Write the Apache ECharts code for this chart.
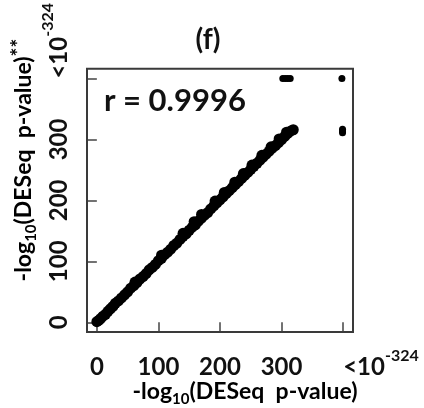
<!DOCTYPE html>
<html>
<head>
<meta charset="utf-8">
<script src="https://cdn.jsdelivr.net/npm/echarts@6/dist/echarts.min.js"></script>
<style>
html,body{margin:0;padding:0;background:#fff;}
#chart{width:424px;height:408px;}
</style>
</head>
<body>
<div id="chart"></div>
<script>
// Tick positions and labels (400 stands for the "<10^-324" bin)
const tickValues = [0, 100, 200, 300, 400];
const tickLabels = ['0', '100', '200', '300', '<10^-324'];

// Main diagonal band of genes (x: -log10 DESeq p, y: -log10 DESeq p **)
const bandX = [0, 3, 6, 10, 14, 18, 22, 26, 30, 35, 40, 45, 50, 55, 60, 65, 70, 75, 80, 85, 90, 95, 100, 105, 110, 115, 120, 125, 130, 135, 140, 145, 150, 155, 160, 165, 170, 175, 180, 185, 190, 195, 200, 205, 210, 215, 220, 225, 230, 235, 240, 245, 250, 255, 260, 265, 270, 275, 280, 285, 290, 295, 300, 305, 310, 315, 319];
const bandY = [1, 3, 6, 10, 13, 18, 22, 26, 31, 35, 40, 45, 50, 56, 60, 65, 71, 75, 80, 86, 90, 95, 101, 105, 111, 115, 120, 126, 130, 136, 141, 145, 151, 156, 160, 166, 171, 176, 180, 186, 191, 196, 201, 206, 211, 216, 221, 226, 231, 236, 241, 246, 251, 256, 261, 266, 271, 276, 281, 286, 290, 295, 300, 305, 310, 314, 316];

// Genes scattered slightly above the band
const bumpX = [62, 105, 140, 158, 170, 192, 207, 224, 238, 252, 268, 283, 296, 308];
const bumpY = [66, 110, 146, 165, 177, 199, 213, 230, 244, 258, 274, 288, 301, 312];

// Genes at the "<10^-324" limit (value 400)
const outX = [302, 306, 310, 314, 398, 399, 399, 399];
const outY = [400, 400, 400, 400, 400, 311, 314, 317];

const FONT = 'Lato';
const TXT = '#111';

const band = bandX.map((x, i) => [x, bandY[i]]).concat(bumpX.map((x, i) => [x, bumpY[i]]));
const outliers = outX.map((x, i) => [x, outY[i]]);

function tickFmt(v) {
  const i = tickValues.indexOf(v);
  if (i < 0) return '';
  if (i === tickValues.length - 1) return '{b|<10}{sup|-324}';
  return '{b|' + tickLabels[i] + '}';
}
const richTick = {
  b: { fontFamily: FONT, fontWeight: 'bold', fontSize: 24, lineHeight: 30, padding: [8, 0, 0, 0], color: TXT },
  sup: { fontFamily: FONT, fontWeight: 'bold', fontSize: 16, lineHeight: 16, verticalAlign: 'top', color: TXT }
};

const axisCommon = {
  type: 'value', min: -16, max: 416,
  splitLine: { show: false },
  axisLine: { show: false },
  axisTick: { show: true, customValues: tickValues, length: 9, lineStyle: { color: '#444', width: 1.5 } }
};

const chart = echarts.init(document.getElementById('chart'), null, { renderer: 'canvas' });
chart.setOption({
  animation: false,
  backgroundColor: '#fff',
  grid: { left: 87, right: 71, top: 65, bottom: 76, show: true, borderColor: '#3a3a3a', borderWidth: 2, backgroundColor: 'transparent' },
  xAxis: Object.assign({}, axisCommon, {
    axisLabel: { customValues: tickValues, formatter: tickFmt, rich: richTick, margin: 16,
      alignMaxLabel: 'left', hideOverlap: false, color: TXT }
  }),
  yAxis: Object.assign({}, axisCommon, {
    axisLabel: { customValues: tickValues, formatter: tickFmt, rich: richTick, margin: 17, rotate: 90,
      alignMaxLabel: 'left', hideOverlap: false, color: TXT }
  }),
  series: [
    { type: 'scatter', data: band, symbol: 'circle', symbolSize: 11, itemStyle: { color: '#000', opacity: 1, borderWidth: 0 }, silent: true },
    { type: 'scatter', data: outliers, symbol: 'circle', symbolSize: 7, itemStyle: { color: '#000', opacity: 1, borderWidth: 0 }, silent: true }
  ],
  graphic: [
    { type: 'text', x: 208, y: 40, silent: true,
      style: { text: '(f)', fill: TXT, font: 'bold 28px ' + FONT, align: 'center', verticalAlign: 'middle', textAlign: 'center', textVerticalAlign: 'middle' } },
    { type: 'text', x: 104, y: 101, silent: true,
      style: { text: 'r = 0.9996', fill: TXT, font: 'bold 31px ' + FONT, align: 'left', verticalAlign: 'middle', textAlign: 'left', textVerticalAlign: 'middle' } },
    { type: 'text', x: 245, y: 392, silent: true,
      style: { text: '{m|-log}{s|10}{m|(DESeq  p-value)}', align: 'center', verticalAlign: 'middle', textAlign: 'center', textVerticalAlign: 'middle',
        rich: {
          m: { fontFamily: FONT, fontWeight: 'bold', fontSize: 23, lineHeight: 30, color: TXT },
          s: { fontFamily: FONT, fontWeight: 'bold', fontSize: 15, lineHeight: 15, verticalAlign: 'bottom', color: TXT }
        } } },
    { type: 'text', x: 24, y: 160, rotation: Math.PI / 2, silent: true,
      style: { text: '{m|-log}{s|10}{m|(DESeq  p-value)}{p|**}', align: 'center', verticalAlign: 'middle', textAlign: 'center', textVerticalAlign: 'middle',
        rich: {
          m: { fontFamily: FONT, fontWeight: 'bold', fontSize: 23, lineHeight: 30, color: TXT },
          s: { fontFamily: FONT, fontWeight: 'bold', fontSize: 15, lineHeight: 15, verticalAlign: 'bottom', color: TXT },
          p: { fontFamily: FONT, fontWeight: 'bold', fontSize: 21, lineHeight: 22, verticalAlign: 'top', color: TXT }
        } } }
  ]
});
</script>
</body>
</html>
